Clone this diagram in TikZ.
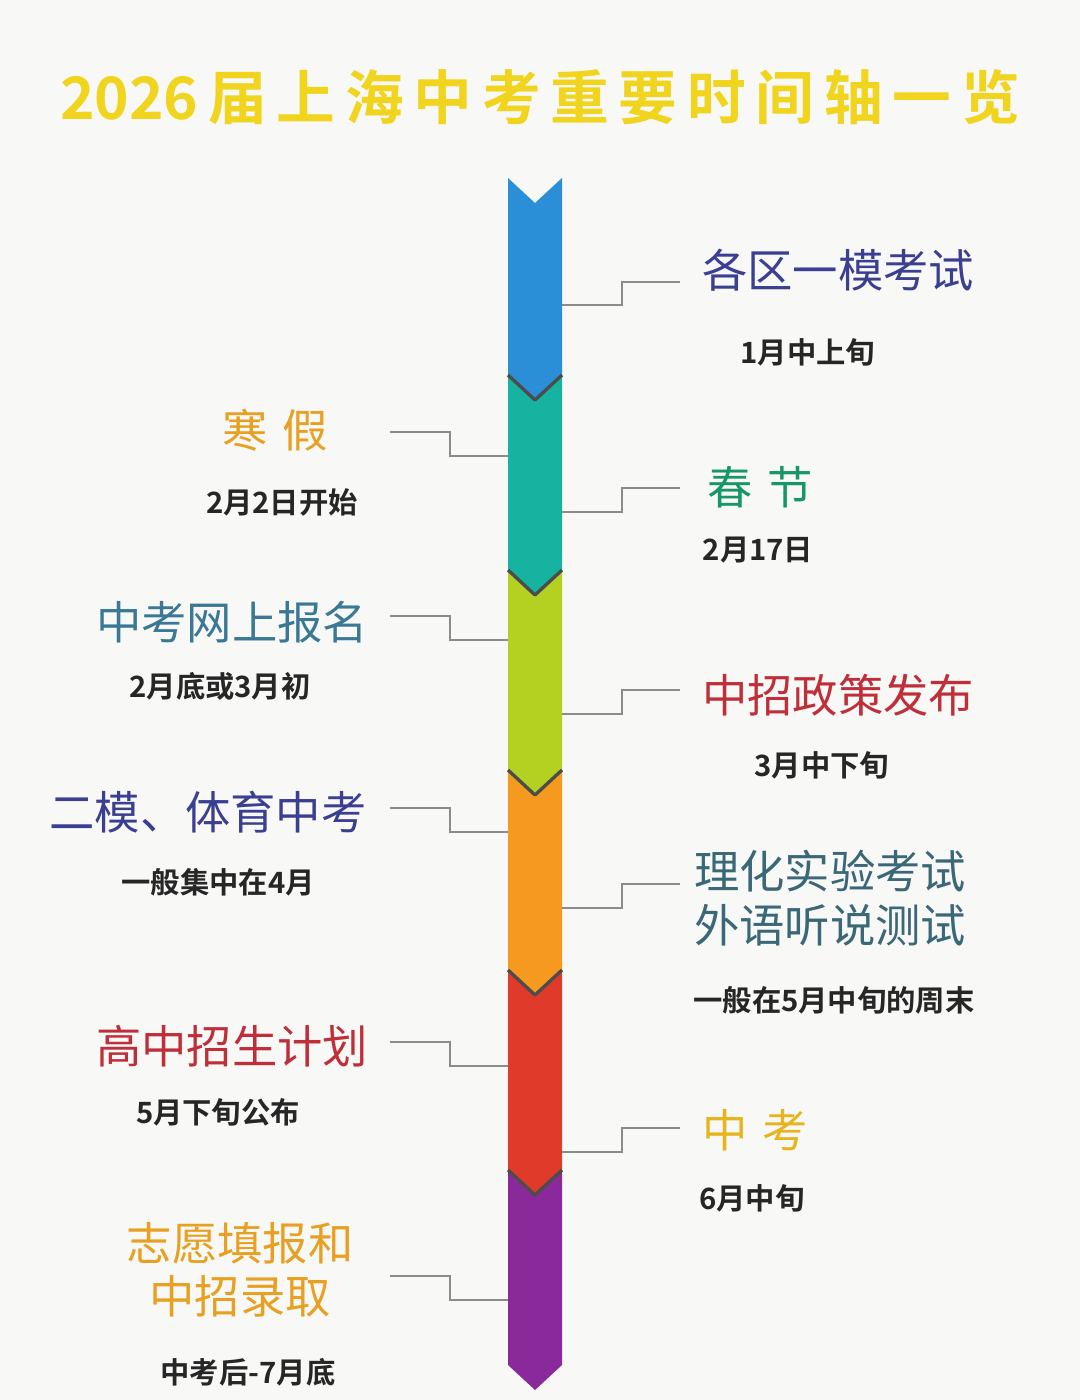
\documentclass[tikz,border=0pt]{standalone}
\usepackage{fontspec}
\setmainfont{Noto Sans CJK SC}
\newfontfamily\cjk{Noto Sans CJK SC}
\newfontfamily\cjkb{Noto Sans CJK SC Bold}
\definecolor{bg}{HTML}{F8F8F6}
\definecolor{ttl}{HTML}{F0D41E}
\definecolor{sblue}{HTML}{2B8FD8}
\definecolor{steal}{HTML}{16B4A0}
\definecolor{sgreen}{HTML}{B4D020}
\definecolor{sorange}{HTML}{F59A1E}
\definecolor{sred}{HTML}{E03A2A}
\definecolor{spurple}{HTML}{8A2A9A}
\definecolor{cindigo}{HTML}{3B3F92}
\definecolor{corange}{HTML}{E8A022}
\definecolor{cgreen}{HTML}{17966A}
\definecolor{cteal}{HTML}{3A7896}
\definecolor{cred}{HTML}{BF2F3A}
\definecolor{cslate}{HTML}{3A6878}
\definecolor{cyellow}{HTML}{E8B41E}
\tikzset{
  mainlbl/.style={font=\cjk\fontsize{34}{40}\selectfont, align=center, inner sep=0},
  sublbl/.style={font=\cjkb\fontsize{22}{26}\selectfont, text=black!85, inner sep=0},
  conn/.style={draw=black!45, line width=0.8pt},
  seg/.style={line width=0pt},
  tip/.style={draw=black!70, line width=2.5pt, line join=round}
}
\newcommand{\seg}[3]{% color, top, bottom
  \fill[#1] (508,#2) -- (535,#2+25) -- (562,#2) -- (562,#3) -- (535,#3+25) -- (508,#3) -- cycle;}
\begin{document}
\begin{tikzpicture}[x=0.75pt,y=-0.75pt]
\fill[bg] (0,0) rectangle (1080,1400);
\useasboundingbox (0,0) rectangle (1080,1400);
\node[font=\cjkb\fontsize{44}{50}\selectfont, text=ttl] (title) at (540,97) {2026\,届\,上\,海\,中\,考\,重\,要\,时\,间\,轴\,一\,览};
% segments bottom to top
\seg{spurple}{1170}{1365}
\seg{sred}{970}{1170}
\draw[tip] (508,1170) -- (535,1195) -- (562,1170);
\seg{sorange}{770}{970}
\draw[tip] (508,970) -- (535,995) -- (562,970);
\seg{sgreen}{570}{770}
\draw[tip] (508,770) -- (535,795) -- (562,770);
\seg{steal}{375}{570}
\draw[tip] (508,570) -- (535,595) -- (562,570);
\seg{sblue}{178}{375}
\draw[tip] (508,375) -- (535,400) -- (562,375);
\coordinate (t0) at (535,200);
% right side
\foreach \ya/\yb/\n in {305/282/r1, 512/488/r2, 714/690/r3, 908/884/r4, 1152/1128/r5}{
  \coordinate (\n a) at (562,\ya); \coordinate (\n b) at (680,\yb);
  \draw[conn] (\n a) -- (622,\ya) -- (622,\yb) -- (\n b);
}
\foreach \ya/\yb/\n in {432/456/l1, 616/640/l2, 808/832/l3, 1042/1066/l4, 1276/1300/l5}{
  \coordinate (\n a) at (390,\ya); \coordinate (\n b) at (508,\yb);
  \draw[conn] (\n a) -- (450,\ya) -- (450,\yb) -- (\n b);
}
\node[mainlbl, text=cindigo] (m1) at (838,270) {各区一模考试};
\node[sublbl] (s1) at (808,352) {1月中上旬};
\node[mainlbl, text=corange] (m2) at (275,430) {寒\,\,假};
\node[sublbl] (s2) at (282,502) {2月2日开始};
\node[mainlbl, text=cgreen] (m3) at (760,487) {春\,\,节};
\node[sublbl] (s3) at (758,550) {2月17日};
\node[mainlbl, text=cteal] (m4) at (232,622) {中考网上报名};
\node[sublbl] (s4) at (220,686) {2月底或3月初};
\node[mainlbl, text=cred] (m5) at (838,695) {中招政策发布};
\node[sublbl] (s5) at (822,765) {3月中下旬};
\node[mainlbl, text=cindigo] (m6) at (208,812) {二模、体育中考};
\node[sublbl] (s6) at (218,882) {一般集中在4月};
\node[mainlbl, text=cslate] (m7) at (830,898) {理化实验考试\\外语听说测试};
\node[sublbl] (s7) at (834,1000) {一般在5月中旬的周末};
\node[mainlbl, text=cred] (m8) at (232,1046) {高中招生计划};
\node[sublbl] (s8) at (218,1112) {5月下旬公布};
\node[mainlbl, text=cyellow] (m9) at (755,1130) {中\,\,考};
\node[sublbl] (s9) at (752,1198) {6月中旬};
\node[mainlbl, text=corange] (m10) at (240,1270) {志愿填报和\\中招录取};
\node[sublbl] (s10) at (248,1372) {中考后-7月底};
\end{tikzpicture}
\end{document}
